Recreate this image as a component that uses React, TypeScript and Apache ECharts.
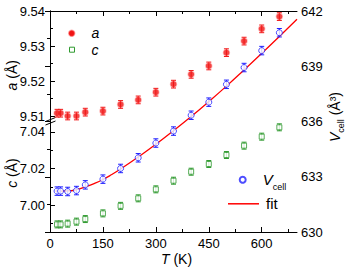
import React, { useEffect, useRef } from 'react';
import * as echarts from 'echarts';

const temps = [20, 30, 50, 75, 100, 150, 200, 250, 300, 350, 400, 450, 500, 550, 600, 650];
const aValues = [9.5108, 9.5108, 9.51, 9.51, 9.5111, 9.5114, 9.5133, 9.5146, 9.5168, 9.5191, 9.5219, 9.5243, 9.5281, 9.5314, 9.5349, 9.5384];
const aErrors = [0.0011, 0.0011, 0.0011, 0.0011, 0.0011, 0.0011, 0.0011, 0.0011, 0.0011, 0.0011, 0.0011, 0.0011, 0.0011, 0.0011, 0.0011, 0.0011];
const cValues = [6.9896, 6.9896, 6.99, 6.9911, 6.9925, 6.9956, 6.9997, 7.0038, 7.0087, 7.0134, 7.0183, 7.0225, 7.0274, 7.0325, 7.0374, 7.0425];
const cErrors = [0.0019, 0.0019, 0.0019, 0.0019, 0.0019, 0.0019, 0.0019, 0.0019, 0.0019, 0.0019, 0.0019, 0.0019, 0.0019, 0.0019, 0.0019, 0.0019];
const vValues = [632.22, 632.22, 632.2, 632.25, 632.56, 632.87, 633.45, 634.03, 634.83, 635.48, 636.34, 637.05, 638.02, 638.93, 639.85, 640.82];
const vErrors = [0.23, 0.23, 0.23, 0.23, 0.23, 0.23, 0.23, 0.23, 0.23, 0.23, 0.23, 0.23, 0.23, 0.23, 0.23, 0.23];
const fitT = [15, 50, 75, 100, 125, 150, 175, 200, 250, 300, 350, 400, 450, 500, 550, 600, 650, 700];
const fitV = [632.22, 632.23, 632.3, 632.45, 632.63, 632.85, 633.12, 633.42, 634.07, 634.76, 635.5, 636.27, 637.08, 637.92, 638.8, 639.7, 640.62, 641.55];

const xTicks = [0, 150, 300, 450, 600];
const xMinorTicks = [75, 225, 375, 525, 675];
const aTicks = [9.51, 9.52, 9.53, 9.54];
const aMinorTicks = [9.515, 9.525, 9.535];
const cTicks = [7.0, 7.02, 7.04];
const cMinorTicks = [6.99, 7.01, 7.03];

const FONT = 'Liberation Sans, Arial, sans-serif';
const RED = '#f01414';
const GREEN = '#2f9a2f';
const BLUE = '#2020ff';

const errRender = (color: string, capHalf: number) => (_p: any, api: any) => {
  const x = api.value(0);
  const lo = api.coord([x, api.value(1)]);
  const hi = api.coord([x, api.value(2)]);
  const st = { stroke: color, lineWidth: 1 };
  return {
    type: 'group',
    children: [
      { type: 'line', shape: { x1: lo[0], y1: lo[1], x2: hi[0], y2: hi[1] }, style: st },
      { type: 'line', shape: { x1: lo[0] - capHalf, y1: lo[1], x2: lo[0] + capHalf, y2: lo[1] }, style: st },
      { type: 'line', shape: { x1: hi[0] - capHalf, y1: hi[1], x2: hi[0] + capHalf, y2: hi[1] }, style: st },
    ],
  };
};

const errData = (vals: number[], errs: number[]) => temps.map((t, i) => [t, vals[i] - errs[i], vals[i] + errs[i]]);

export default function App() {
  const ref = useRef<HTMLDivElement>(null);
  useEffect(() => {
    if (!ref.current) return;
    const chart = echarts.init(ref.current, undefined, { renderer: 'svg' });
    const black = { color: '#000', width: 1 };
    const xMajor = (gridIndex: number, position: string, labels: boolean) => ({
      type: 'value', gridIndex, position, min: 0, max: 700,
      axisLine: { show: true, lineStyle: black },
      axisTick: { show: true, inside: true, length: 5, customValues: xTicks, lineStyle: black },
      axisLabel: { show: labels, customValues: xTicks, fontSize: 13, color: '#000', fontFamily: FONT, margin: 5 },
      splitLine: { show: false },
      ...(labels ? {
        name: '{i|T} (K)', nameLocation: 'middle', nameGap: 20, nameMoveOverlap: false,
        nameTextStyle: { fontSize: 14, color: '#000', fontFamily: FONT, padding: [0, 0, 0, 6], rich: { i: { fontStyle: 'italic', fontSize: 14, fontFamily: FONT } } },
      } : {}),
    });
    const xMinor = (gridIndex: number, position: string) => ({
      type: 'value', gridIndex, position, min: 0, max: 700,
      axisLine: { show: false },
      axisTick: { show: true, inside: true, length: 3, customValues: xMinorTicks, lineStyle: black },
      axisLabel: { show: false },
      splitLine: { show: false },
    });
    const yMinor = (gridIndex: number, min: number, max: number, ticks: number[]) => ({
      type: 'value', gridIndex, position: 'left', min, max,
      axisLine: { show: false },
      axisTick: { show: true, inside: true, length: 3, customValues: ticks, lineStyle: black },
      axisLabel: { show: false },
      splitLine: { show: false },
    });
    const aMin = 9.509, aMax = 9.54;
    const cMin = 6.98545, cMax = 7.04485;
    const legendText = (pad: number) => ({
      fontSize: 14, fontFamily: FONT, color: '#000', padding: [0, 0, 0, pad],
      rich: {
        v: { fontSize: 15, fontStyle: 'italic', fontFamily: FONT, lineHeight: 24 },
        s: { fontSize: 9, fontFamily: FONT, lineHeight: 10, verticalAlign: 'bottom' },
        f: { fontSize: 15, fontFamily: FONT, lineHeight: 16 },
      },
    });
    const option: any = {
      animation: false,
      backgroundColor: '#fff',
      grid: [
        { left: 50, right: 50, top: 11, height: 108.5, outerBoundsMode: 'none', containLabel: false },
        { left: 50, right: 50, top: 123, height: 109, outerBoundsMode: 'none', containLabel: false },
        { left: 50, right: 50, top: 11, height: 221, outerBoundsMode: 'none', containLabel: false },
      ],
      xAxis: [
        xMajor(0, 'top', false),
        xMinor(0, 'top'),
        xMajor(1, 'bottom', true),
        xMinor(1, 'bottom'),
        { type: 'value', gridIndex: 2, min: 0, max: 700, show: false },
      ],
      yAxis: [
        {
          type: 'value', gridIndex: 0, position: 'left', min: aMin, max: aMax,
          axisLine: { show: true, lineStyle: black },
          axisTick: { show: true, inside: true, length: 5, customValues: aTicks, lineStyle: black },
          axisLabel: { show: true, customValues: aTicks, formatter: (v: number) => v.toFixed(2), fontSize: 13, color: '#000', fontFamily: FONT, margin: 5 },
          splitLine: { show: false },
          name: '{i|a} (Å)', nameLocation: 'middle', nameGap: 31, nameRotate: 90, nameMoveOverlap: false,
          nameTextStyle: { fontSize: 14, color: '#000', fontFamily: FONT, padding: [0, 20, 0, 0], rich: { i: { fontStyle: 'italic', fontSize: 14, fontFamily: FONT } } },
        },
        yMinor(0, aMin, aMax, aMinorTicks),
        {
          type: 'value', gridIndex: 1, position: 'left', min: cMin, max: cMax,
          axisLine: { show: true, lineStyle: black },
          axisTick: { show: true, inside: true, length: 5, customValues: cTicks, lineStyle: black },
          axisLabel: { show: true, customValues: cTicks, formatter: (v: number) => v.toFixed(2), fontSize: 13, color: '#000', fontFamily: FONT, margin: 5 },
          splitLine: { show: false },
          name: '{i|c} (Å)', nameLocation: 'middle', nameGap: 31, nameRotate: 90, nameMoveOverlap: false,
          nameTextStyle: { fontSize: 14, color: '#000', fontFamily: FONT, padding: [0, 0, 0, 9], rich: { i: { fontStyle: 'italic', fontSize: 14, fontFamily: FONT } } },
        },
        yMinor(1, cMin, cMax, cMinorTicks),
        {
          type: 'value', gridIndex: 2, position: 'right', min: 630, max: 642, interval: 3,
          axisLine: { show: true, lineStyle: black },
          axisTick: { show: true, inside: true, length: 5, lineStyle: black },
          minorTick: { show: true, splitNumber: 2, length: 3, lineStyle: black },
          axisLabel: { show: true, fontSize: 13, color: '#000', fontFamily: FONT, margin: 4 },
          splitLine: { show: false },
          name: '{i|V}{s|cell} (Å³)', nameLocation: 'middle', nameGap: 28, nameRotate: 90, nameMoveOverlap: false,
          nameTextStyle: {
            fontSize: 14, color: '#000', fontFamily: FONT, padding: [0, 0, 0, 9],
            rich: {
              i: { fontStyle: 'italic', fontSize: 14, fontFamily: FONT, lineHeight: 20 },
              s: { fontSize: 9, fontFamily: FONT, lineHeight: 10, verticalAlign: 'bottom' },
            },
          },
        },
      ],
      legend: [
        {
          data: [{ name: 'Vcell', icon: 'circle' }], left: 238.7, top: 172.3, padding: 0, itemWidth: 6, itemHeight: 6, selectedMode: false,
          formatter: () => '{v|V}{s|cell}', textStyle: legendText(12),
        },
        {
          data: [{ name: 'fit', icon: 'rect' }], left: 228, top: 196.3, padding: 0, itemWidth: 31, itemHeight: 1.5, selectedMode: false,
          formatter: () => '{f|fit}', textStyle: legendText(2),
        },
      ],
      graphic: [
        { type: 'line', shape: { x1: 45.5, y1: 121.5, x2: 55.5, y2: 117.5 }, style: { stroke: '#000', lineWidth: 1 } },
        { type: 'line', shape: { x1: 45.5, y1: 125, x2: 55.5, y2: 121 }, style: { stroke: '#000', lineWidth: 1 } },
        { type: 'circle', shape: { cx: 71.7, cy: 33.3, r: 3 }, style: { fill: RED, stroke: 'rgba(255,80,80,0.45)', lineWidth: 1.5 } },
        { type: 'text', x: 91.5, y: 33.3, style: { text: 'a', fontSize: 14, fontStyle: 'italic', fontFamily: FONT, fill: '#000', verticalAlign: 'middle', align: 'left' } },
        { type: 'rect', shape: { x: 69.5, y: 47.2, width: 5, height: 5 }, style: { fill: '#fff', stroke: GREEN, lineWidth: 1 } },
        { type: 'text', x: 91.5, y: 49.7, style: { text: 'c', fontSize: 14, fontStyle: 'italic', fontFamily: FONT, fill: '#000', verticalAlign: 'middle', align: 'left' } },
      ],
      series: [
        { type: 'custom', name: 'aErr', xAxisIndex: 0, yAxisIndex: 0, renderItem: errRender(RED, 2.5), data: errData(aValues, aErrors), encode: { x: 0, y: [1, 2] }, silent: true },
        {
          type: 'scatter', name: 'a', xAxisIndex: 0, yAxisIndex: 0, symbol: 'circle', symbolSize: 6,
          itemStyle: { color: RED, borderColor: 'rgba(255,80,80,0.45)', borderWidth: 1.5 },
          data: temps.map((t, i) => [t, aValues[i]]), z: 3,
        },
        { type: 'custom', name: 'cErr', xAxisIndex: 2, yAxisIndex: 2, renderItem: errRender(GREEN, 2.5), data: errData(cValues, cErrors), encode: { x: 0, y: [1, 2] }, silent: true },
        {
          type: 'scatter', name: 'c', xAxisIndex: 2, yAxisIndex: 2, symbol: 'rect', symbolSize: 5,
          itemStyle: { color: '#fff', borderColor: GREEN, borderWidth: 1 },
          data: temps.map((t, i) => [t, cValues[i]]), z: 3,
        },
        {
          type: 'line', name: 'fit', xAxisIndex: 4, yAxisIndex: 4, smooth: true, symbol: 'none', showSymbol: false,
          lineStyle: { color: '#ff0000', width: 1.3 }, itemStyle: { color: '#ff0000' },
          data: fitT.map((t, i) => [t, fitV[i]]), z: 2,
        },
        { type: 'custom', name: 'vErr', xAxisIndex: 4, yAxisIndex: 4, renderItem: errRender(BLUE, 2.5), data: errData(vValues, vErrors), encode: { x: 0, y: [1, 2] }, silent: true, z: 3 },
        {
          type: 'scatter', name: 'Vcell', xAxisIndex: 4, yAxisIndex: 4, symbol: 'circle', symbolSize: 6,
          itemStyle: { color: '#fff', borderColor: BLUE, borderWidth: 1 },
          data: temps.map((t, i) => [t, vValues[i]]), z: 4,
        },
      ],
    };
    chart.setOption(option);
    return () => chart.dispose();
  }, []);
  return <div ref={ref} style={{ position: 'fixed', left: 0, top: 0, width: 347, height: 268, background: '#fff' }} />;
}
